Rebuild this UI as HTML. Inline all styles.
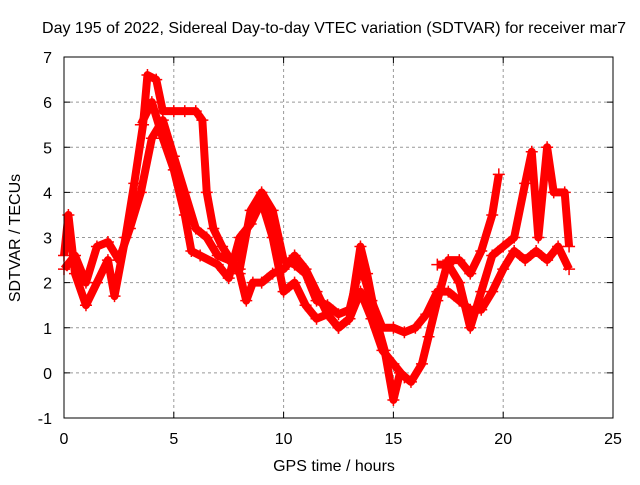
<!DOCTYPE html>
<html><head><meta charset="utf-8"><style>
body{margin:0;background:#fff;}
svg text{font-family:"Liberation Sans",sans-serif;font-size:16px;fill:#000;}
</style></head><body>
<svg id="chart" width="640" height="480" xmlns="http://www.w3.org/2000/svg">
<text x="334" y="33" text-anchor="middle">Day 195 of 2022, Sidereal Day-to-day VTEC variation (SDTVAR) for receiver mar7</text>
<text x="334" y="471" text-anchor="middle">GPS time / hours</text>
<text x="0" y="0" text-anchor="middle" transform="translate(20,238) rotate(-90)">SDTVAR / TECUs</text>
<g id="grid"></g><g id="ticks"></g><g id="marks"></g>
<rect x="64" y="57" width="549" height="361" fill="none" stroke="#000" stroke-width="1"/>
</svg>
<script>
const xTicks=[0,5,10,15,20,25];
const yTicks=[-1,0,1,2,3,4,5,6,7];
const track1=[[0,2.6],[0.2,3.5],[0.5,2.2],[1.0,1.5],[1.5,2.0],[2.0,2.5],[2.3,1.7],[2.8,3.0],[3.2,4.2],[3.6,5.5],[3.8,6.6],[4.2,6.5],[4.5,5.8],[5,5.8],[5.5,5.8],[6.0,5.8],[6.3,5.6],[6.5,4.0],[6.8,3.2],[7.2,2.8],[7.6,2.5],[8.0,2.2],[8.3,1.6],[8.6,2.0],[9.0,2.0],[9.5,2.2],[10,2.3],[10.5,2.6],[11,2.3],[11.5,1.8],[12,1.3],[12.5,1.0],[13,1.2],[13.5,2.8],[13.8,2.2],[14.2,1.2],[14.6,0.5],[15,-0.6],[15.3,0.0],[15.8,-0.2],[16.3,0.2],[16.6,0.8],[17.0,1.6],[17.5,2.5],[18,2.5],[18.5,2.2],[19,2.7],[19.5,3.5],[19.8,4.4]];
const track2=[[0,2.3],[0.5,2.6],[1.0,2.0],[1.5,2.8],[2,2.9],[2.5,2.5],[3,3.2],[3.5,4.0],[4,5.2],[4.5,5.6],[5,4.8],[5.5,4.0],[6,3.2],[6.5,3.0],[7,2.6],[7.5,2.5],[8,2.3],[8.5,3.6],[9,4.0],[9.5,3.6],[10,2.5],[10.5,2.4],[11,2.2],[11.5,1.6],[12,1.5],[12.5,1.3],[13,1.4],[13.5,2.4],[14,1.6],[14.5,1.0],[15,1.0],[15.5,0.9],[16,1.0],[16.5,1.3],[17,1.8],[17.5,1.8],[18,1.6],[18.5,1.4],[19,1.4],[19.5,1.8],[20,2.3],[20.5,2.7],[21,2.5],[21.5,2.7],[22,2.5],[22.5,2.8],[23,2.3]];
const track3=[[3.5,5.5],[4,6.0],[4.5,5.2],[5,4.5],[5.5,3.5],[5.8,2.7],[6.2,2.6],[7,2.4],[7.5,2.1],[8,3.0],[8.5,3.3],[9,3.8],[9.5,3.0],[10,1.8],[10.5,2.0],[11,1.5],[11.5,1.2],[12,1.3],[12.5,1.0],[13,1.2],[13.5,1.8],[14,1.2],[14.5,0.5],[15,0.2],[15.5,-0.1]];
const track4=[[17,2.4],[17.5,2.4],[18,2.0],[18.5,1.0],[19,1.8],[19.5,2.6],[20,2.8],[20.5,3.0],[21,4.2],[21.3,4.9],[21.6,3.0],[22,5.0],[22.3,4.0],[22.8,4.0],[23,2.8]];
const X=v=>64+v*(549/25), Y=v=>418-(v+1)*(361/8);
const NS="http://www.w3.org/2000/svg";
function mk(t,a,p){const e=document.createElementNS(NS,t);for(const k in a)e.setAttribute(k,a[k]);p.appendChild(e);return e;}
const g=document.getElementById('grid'),tk=document.getElementById('ticks'),m=document.getElementById('marks');
xTicks.forEach(v=>{
  if(v>0&&v<25){const l=mk('line',{x1:X(v),x2:X(v),y1:57,y2:418,stroke:'#999','stroke-dasharray':'3,3'},g);
  
  }
  const t=mk('text',{x:X(v),y:444,'text-anchor':'middle'},tk);t.textContent=v;
  
  
  mk('line',{x1:X(v),x2:X(v),y1:418,y2:412,stroke:'#000'},tk);
  mk('line',{x1:X(v),x2:X(v),y1:57,y2:63,stroke:'#000'},tk);
});
yTicks.forEach(v=>{
  if(v>-1&&v<7){const l=mk('line',{x1:64,x2:613,y1:Y(v),y2:Y(v),stroke:'#999','stroke-dasharray':'3,3'},g);
  
  }
  const t=mk('text',{x:52,y:Y(v)+6,'text-anchor':'end'},tk);t.textContent=v;
  
  
  mk('line',{x1:64,x2:70,y1:Y(v),y2:Y(v),stroke:'#000'},tk);
  mk('line',{x1:613,x2:607,y1:Y(v),y2:Y(v),stroke:'#000'},tk);
});
[track1,track2,track3,track4].forEach((tr,i)=>{
  const pts=tr.map(p=>X(p[0])+','+Y(p[1])).join(' ');
  const pl=mk('polyline',{points:pts,fill:'none',stroke:'#f00','stroke-width':8,'stroke-linejoin':'round'},m);
  
  
  tr.forEach(p=>{
    const x=X(p[0]),y=Y(p[1]);
    const c=mk('path',{d:`M${x-6},${y}H${x+6}M${x},${y-6}V${y+6}`,stroke:'#f00','stroke-width':1.5},m);
    
    
  });
});
</script>
</body></html>
